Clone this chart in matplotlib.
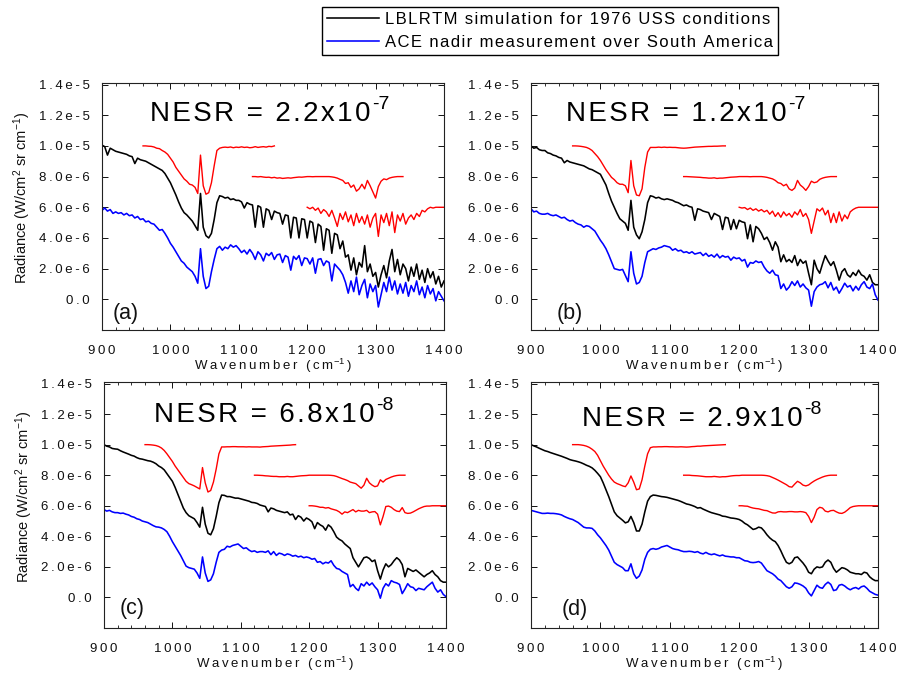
import numpy as np
import matplotlib
matplotlib.use("Agg")
import matplotlib.pyplot as plt
from matplotlib.ticker import FixedLocator, FixedFormatter, MultipleLocator

plt.rcParams['font.family'] = ['Liberation Sans', 'DejaVu Sans']
plt.rcParams['mathtext.fontset'] = 'custom'
plt.rcParams['mathtext.rm'] = 'Liberation Sans'
plt.rcParams['mathtext.it'] = 'Liberation Sans:italic'
plt.rcParams['mathtext.bf'] = 'Liberation Sans:bold'

# ---------------- data (radiance in units of 1e-6 W/cm2 sr cm-1) ----------------
wavenumber = np.arange(900, 1401, 4)

a_black = [
    10.05, 9.95, 9.4, 9.85, 9.75, 9.65, 9.6, 9.55, 9.5, 9.45,
    9.35, 9.3, 8.85, 9.2, 9.1, 9.05, 9.0, 8.9, 8.8, 8.7,
    8.6, 8.5, 8.4, 8.2, 7.9, 7.6, 7.2, 6.8, 6.35, 5.95,
    5.65, 5.5, 5.3, 5.1, 4.8, 4.5, 6.9, 4.7, 4.15, 4.0,
    4.3, 5.2, 6.3, 6.75, 6.7, 6.6, 6.65, 6.5, 6.55, 6.45,
    6.45, 6.35, 5.95, 6.3, 6.2, 6.15, 4.7, 6.1, 6.0, 4.7,
    5.9, 5.8, 5.2, 5.75, 5.65, 5.6, 4.9, 5.5, 5.45, 4.0,
    5.35, 5.3, 4.0, 5.25, 5.2, 4.0, 5.1, 5.0, 3.7, 4.9,
    4.75, 3.2, 4.6, 4.5, 3.0, 4.3, 4.2, 3.3, 3.8, 2.75,
    2.9, 1.9, 2.7, 1.6, 2.4, 2.1, 3.5, 1.8, 2.3, 1.5,
    1.75, 0.8, 1.6, 2.2, 1.4, 2.5, 3.25, 1.8, 2.6, 1.6,
    2.3, 2.0, 1.2, 2.1, 1.5, 2.3, 1.3, 1.9, 1.1, 2.0,
    1.4, 1.8, 1.0, 1.5, 0.8, 1.2]
a_blue = [
    5.8, 5.95, 5.75, 5.85, 5.6, 5.7, 5.6, 5.65, 5.5, 5.6,
    5.45, 5.5, 5.3, 5.4, 5.2, 5.25, 5.05, 5.1, 4.95, 4.9,
    4.7, 4.5, 4.55, 4.3, 4.0, 3.65, 3.4, 3.1, 2.8, 2.5,
    2.35, 2.1, 1.95, 1.8, 1.5, 1.05, 3.3, 1.5, 0.7, 0.85,
    1.8, 2.6, 3.3, 3.45, 3.2, 3.4, 3.3, 3.55, 3.4, 3.5,
    3.3, 3.05, 3.2, 2.95, 3.25, 3.0, 2.6, 3.1, 2.9, 2.5,
    3.0, 2.85, 3.05, 2.6, 2.9, 2.95, 2.4, 2.85, 2.75, 1.9,
    2.8, 2.6, 2.85, 2.2, 2.7, 2.65, 2.3, 2.7, 1.7, 2.6,
    2.65, 2.2, 2.5, 2.4, 1.2, 2.3, 2.1, 1.9, 1.6, 1.1,
    0.4, 1.2, 0.5, 1.45, 0.3, 0.9, 1.3, 0.1, 1.0, 0.5,
    0.9, -0.5, 0.3, 1.1, 0.5, 1.45, 0.6, 1.2, 0.35, 1.0,
    0.4, 1.1, 0.2, 0.9, 0.5, 1.2, 0.3, 0.8, 0.1, 0.9,
    0.35, 0.7, -0.1, 0.5, 0.2, -0.1]
a_red_upper = [
    10.0, 10.0, 9.98, 9.97, 9.93, 9.85, 9.82, 9.7, 9.6, 9.45,
    9.2, 8.95, 8.6, 8.35, 8.1, 7.85, 7.7, 7.5, 7.45, 7.3,
    6.9, 9.4, 7.4, 6.85, 6.95, 7.6, 8.7, 9.7, 9.85, 9.9,
    9.92, 9.9, 9.93, 9.88, 9.92, 9.9, 9.94, 9.9, 9.92, 9.88,
    9.9, 9.95, 9.9, 9.93, 9.95, 9.92, 9.97, 9.95, 10.0]
a_red_middle = [
    8.0, 8.0, 7.98, 8.0, 7.97, 7.95, 7.96, 7.92, 7.95, 7.9,
    7.92, 7.88, 7.9, 7.92, 7.9, 7.93, 7.95, 7.97, 7.96, 7.98,
    8.0, 8.0, 7.99, 8.0, 8.0, 8.0, 8.0, 8.0, 8.0, 7.98,
    7.95, 7.9, 7.82, 7.75, 7.55, 7.6, 7.3, 7.45, 7.05, 7.2,
    7.5, 7.2, 7.75, 7.4, 7.0, 6.6, 7.35, 7.7, 7.85, 7.8,
    7.9, 7.95, 7.98, 8.0, 8.0, 8.0]
a_red_lower = [
    6.0, 5.9, 6.0, 5.8, 5.95, 5.6, 5.85, 5.7, 5.4, 5.8,
    5.3, 4.75, 5.6, 5.2, 5.7, 5.05, 5.5, 4.8, 5.6, 5.0,
    5.4, 4.9, 5.5, 4.7, 5.3, 5.6, 4.1, 5.5, 5.0, 5.6,
    4.8, 5.7, 4.35, 5.5, 5.1, 5.6, 4.9, 5.3, 5.5, 5.2,
    5.6, 5.4, 5.8, 5.7, 5.9, 6.0, 5.95, 6.0, 6.0, 6.0,
    6.0]

b_black = [
    10.0, 9.85, 9.9, 9.75, 9.7, 9.7, 9.55, 9.5, 9.4, 9.35,
    9.25, 9.2, 8.9, 9.05, 8.95, 8.9, 8.85, 8.8, 8.75, 8.7,
    8.6, 8.5, 8.45, 8.35, 8.25, 8.15, 7.8, 7.45, 6.9, 6.4,
    6.0, 5.6, 5.25, 5.1, 4.95, 4.5, 6.45, 4.7, 4.2, 3.95,
    4.4, 5.2, 6.3, 6.75, 6.7, 6.6, 6.65, 6.55, 6.5, 6.55,
    6.5, 6.45, 6.35, 6.3, 6.2, 6.1, 6.15, 6.05, 6.0, 5.15,
    5.9, 5.85, 5.75, 5.7, 5.65, 5.2, 5.6, 5.5, 5.4, 4.55,
    5.35, 5.3, 4.55, 5.2, 4.6, 5.15, 5.05, 5.0, 3.95, 4.85,
    3.75, 4.75, 4.6, 4.3, 3.9, 4.05, 3.7, 3.2, 3.75, 3.4,
    2.45, 2.9, 2.45, 2.6, 2.4, 2.85, 2.2, 2.6, 2.35, 2.5,
    1.7, 0.95, 2.55, 2.0, 1.7, 2.3, 2.85, 2.5, 2.2, 2.45,
    1.9, 1.25, 1.8, 2.0, 1.6, 1.45, 1.75, 1.55, 1.9, 1.6,
    1.5, 1.25, 1.6, 1.1, 0.95, 0.95]
b_blue = [
    5.9, 5.7, 5.75, 5.6, 5.55, 5.55, 5.6, 5.5, 5.45, 5.5,
    5.4, 5.3, 5.35, 5.2, 5.1, 5.15, 5.0, 4.9, 4.85, 4.7,
    4.8, 4.75, 4.6, 4.45, 4.15, 3.85, 3.6, 3.3, 2.9, 2.45,
    2.0, 1.95, 1.9, 1.95, 1.55, 1.15, 3.1, 1.7, 1.0, 1.1,
    1.5, 2.4, 3.1, 3.2, 3.3, 3.25, 3.35, 3.4, 3.5, 3.45,
    3.4, 3.2, 3.3, 3.15, 3.2, 3.05, 3.1, 3.0, 3.1, 2.95,
    3.0, 3.05, 2.85, 3.0, 2.8, 2.9, 2.75, 2.95, 2.7, 2.85,
    2.75, 2.8, 2.55, 2.75, 2.65, 2.7, 2.5, 2.6, 2.1, 2.4,
    2.35, 2.5, 2.4, 2.45, 2.1, 1.85, 1.7, 1.9, 1.6, 1.55,
    0.7, 1.0, 0.6, 0.8, 1.15, 0.9, 1.2, 0.8, 1.0, 0.75,
    0.6, -0.45, 0.5, 0.8, 0.95, 1.0, 1.15, 0.75, 1.1, 0.6,
    0.8, 0.4, 0.7, 1.05, 0.8, 0.9, 0.55, 0.85, 0.6, 0.95,
    1.15, 0.8, 0.7, 1.0, 0.3, -0.05]
b_red_upper = [
    10.0, 10.0, 9.99, 9.97, 9.94, 9.9, 9.82, 9.7, 9.5, 9.3,
    9.05, 8.75, 8.45, 8.2, 7.95, 7.8, 7.6, 7.5, 7.5, 7.4,
    6.95, 9.05, 7.4, 6.8, 6.75, 7.2, 8.6, 9.6, 9.9, 9.9,
    9.9, 9.92, 9.9, 9.92, 9.9, 9.91, 9.9, 9.9, 9.88, 9.86,
    9.85, 9.86, 9.88, 9.9, 9.92, 9.93, 9.94, 9.95, 9.96, 9.97,
    9.97, 9.98, 9.98, 9.99, 10.0, 10.0]
b_red_middle = [
    8.0, 8.0, 7.99, 7.98, 7.97, 7.96, 7.95, 7.93, 7.92, 7.9,
    7.9, 7.92, 7.88, 7.9, 7.9, 7.92, 7.94, 7.96, 7.97, 7.98,
    8.0, 8.0, 8.0, 8.0, 7.99, 8.0, 8.0, 8.0, 8.0, 7.98,
    7.95, 7.9, 7.85, 7.75, 7.6, 7.55, 7.4, 7.5, 7.2, 7.1,
    7.25, 7.75, 7.45, 7.3, 7.1, 7.35, 7.7, 7.6, 7.65, 7.82,
    7.9, 7.95, 7.98, 8.0, 8.0, 8.0]
b_red_lower = [
    6.0, 5.95, 5.98, 5.85, 5.95, 5.8, 5.9, 5.75, 5.85, 5.7,
    5.8, 5.55, 5.75, 5.4, 5.65, 5.35, 5.7, 5.45, 5.6, 5.35,
    5.7, 5.5, 5.85, 5.4, 5.6, 5.2, 4.3, 5.1, 5.9, 5.75,
    5.95, 5.5, 5.8, 5.0, 5.6, 5.0, 5.7, 5.1, 5.5, 5.25,
    5.7, 5.85, 5.95, 6.0, 6.0, 6.0, 6.0, 6.0, 6.0, 6.0,
    6.0]

c_black = [
    10.0, 9.9, 9.85, 9.75, 9.72, 9.7, 9.6, 9.52, 9.45, 9.38,
    9.3, 9.25, 9.15, 9.08, 9.05, 9.0, 8.95, 8.92, 8.85, 8.75,
    8.6, 8.5, 8.35, 8.1, 7.85, 7.6, 7.2, 6.75, 6.3, 5.85,
    5.55, 5.35, 5.25, 5.15, 4.9, 4.6, 5.9, 4.8, 4.2, 4.1,
    4.5, 5.3, 6.2, 6.7, 6.68, 6.6, 6.6, 6.55, 6.5, 6.5,
    6.45, 6.4, 6.35, 6.3, 6.22, 6.2, 6.15, 6.05, 6.0, 5.95,
    5.6, 5.85, 5.8, 5.7, 5.65, 5.6, 5.55, 5.6, 5.4, 5.45,
    5.1, 5.35, 5.25, 5.0, 5.2, 5.1, 4.95, 4.5, 4.9, 4.75,
    4.65, 4.4, 4.75, 4.6, 4.3, 3.95, 3.8, 3.7, 3.5, 3.35,
    3.2, 2.6, 2.3, 2.0, 2.3, 2.6, 2.65, 2.55, 2.35, 2.45,
    1.75, 1.2, 1.8, 2.2, 2.0, 2.15, 2.4, 2.6, 2.45, 2.15,
    1.35, 1.9, 1.8, 1.7, 1.8, 1.65, 1.5, 1.35, 1.5, 1.6,
    1.75, 1.5, 1.35, 1.1, 1.0, 1.0]
c_blue = [
    5.75, 5.65, 5.7, 5.6, 5.55, 5.55, 5.5, 5.52, 5.45, 5.4,
    5.3, 5.25, 5.15, 5.1, 5.0, 4.95, 4.9, 4.8, 4.7, 4.62,
    4.6, 4.55, 4.45, 4.3, 4.0, 3.65, 3.35, 3.05, 2.75, 2.4,
    2.05, 1.95, 1.9, 1.85, 1.6, 1.25, 2.65, 1.6, 1.05, 1.15,
    1.55, 2.3, 2.95, 3.1, 3.15, 3.35, 3.3, 3.4, 3.45, 3.5,
    3.35, 3.2, 3.25, 3.1, 3.0, 3.05, 2.95, 3.0, 3.0, 2.95,
    3.05, 2.8, 3.0, 2.75, 2.9, 2.85, 2.75, 2.85, 2.8, 2.7,
    2.75, 2.65, 2.7, 2.6, 2.65, 2.6, 2.5, 2.55, 2.3, 2.35,
    2.2, 2.3, 2.25, 2.4, 2.1, 1.9, 1.85, 1.7, 1.6, 1.5,
    0.7, 0.85, 0.6, 0.45, 0.9, 0.75, 1.0, 0.8, 0.95, 0.7,
    0.5, -0.05, 0.6, 0.9, 0.75, 1.1, 1.0, 0.95, 0.85, 0.25,
    0.55, 0.9, 0.7, 0.65, 0.45, 0.6, 0.55, 0.5, 0.7, 0.85,
    1.0, 0.6, 0.35, 0.5, 0.2, 0.05]
c_red_upper = [
    10.0, 10.0, 9.99, 9.97, 9.94, 9.88, 9.78, 9.62, 9.4, 9.15,
    8.9, 8.6, 8.35, 8.1, 7.85, 7.6, 7.45, 7.38, 7.3, 7.2,
    7.1, 8.5, 7.5, 6.9, 7.0, 7.55, 8.4, 9.4, 9.85, 9.85,
    9.86, 9.86, 9.87, 9.87, 9.86, 9.86, 9.86, 9.85, 9.86, 9.85,
    9.85, 9.85, 9.84, 9.86, 9.87, 9.88, 9.9, 9.91, 9.92, 9.93,
    9.94, 9.95, 9.96, 9.97, 9.99, 10.0]
c_red_middle = [
    8.0, 8.0, 7.99, 7.98, 7.96, 7.95, 7.93, 7.92, 7.92, 7.9,
    7.9, 7.9, 7.92, 7.9, 7.9, 7.92, 7.94, 7.96, 7.97, 7.98,
    8.0, 8.0, 8.0, 8.0, 8.0, 8.0, 8.0, 8.0, 7.99, 7.97,
    7.92, 7.85, 7.78, 7.72, 7.65, 7.55, 7.5, 7.45, 7.3, 7.15,
    7.35, 7.8, 7.5, 7.35, 7.25, 7.3, 7.7, 7.55, 7.72, 7.8,
    7.88, 7.94, 7.98, 8.0, 8.0, 8.0]
c_red_lower = [
    6.0, 6.0, 5.98, 5.95, 5.9, 5.9, 5.85, 5.88, 5.8, 5.75,
    5.7, 5.6, 5.45, 5.6, 5.55, 5.65, 5.75, 5.6, 5.7, 5.65,
    5.65, 5.7, 5.55, 5.6, 5.62, 5.45, 4.75, 5.3, 5.95, 5.98,
    5.9, 5.75, 5.65, 5.62, 5.88, 5.55, 5.5, 5.52, 5.6, 5.7,
    5.8, 5.88, 5.95, 5.98, 5.98, 6.0, 6.0, 6.0, 6.0, 6.0,
    6.0]

d_black = [
    10.0, 9.92, 9.85, 9.76, 9.68, 9.6, 9.55, 9.48, 9.42, 9.36,
    9.3, 9.24, 9.17, 9.1, 9.02, 8.97, 8.93, 8.88, 8.82, 8.74,
    8.65, 8.58, 8.48, 8.32, 8.12, 7.9, 7.5, 7.05, 6.6, 6.1,
    5.6, 5.35, 5.2, 5.05, 4.88, 4.95, 5.3, 4.9, 4.35, 4.35,
    4.8, 5.6, 6.3, 6.6, 6.7, 6.68, 6.64, 6.6, 6.58, 6.55,
    6.5, 6.45, 6.4, 6.35, 6.28, 6.2, 6.12, 6.08, 6.02, 5.95,
    5.85, 5.88, 5.78, 5.7, 5.62, 5.55, 5.5, 5.45, 5.4, 5.32,
    5.3, 5.25, 5.2, 5.18, 5.15, 5.1, 5.0, 4.85, 4.75, 4.6,
    4.45, 4.5, 4.6, 4.55, 4.35, 4.1, 3.9, 3.75, 3.65, 3.4,
    3.05, 2.65, 2.3, 2.2, 2.3, 2.6, 2.65, 2.45, 2.25, 2.0,
    1.65, 1.55, 1.85, 2.0, 1.95, 2.0, 2.3, 2.45, 2.3, 1.9,
    1.65, 1.8, 1.95, 1.9, 1.8, 1.65, 1.6, 1.55, 1.55, 1.5,
    1.65, 1.6, 1.35, 1.2, 1.1, 1.1]
d_blue = [
    5.7, 5.65, 5.6, 5.55, 5.5, 5.5, 5.52, 5.5, 5.5, 5.48,
    5.45, 5.4, 5.3, 5.22, 5.15, 5.1, 5.0, 4.9, 4.75, 4.6,
    4.55, 4.55, 4.52, 4.35, 4.1, 3.9, 3.65, 3.4, 3.1, 2.7,
    2.3, 2.15, 2.05, 1.95, 1.75, 1.75, 2.2, 1.55, 1.25, 1.4,
    1.8, 2.5, 2.95, 3.15, 3.2, 3.15, 3.2, 3.3, 3.35, 3.4,
    3.3, 3.2, 3.15, 3.12, 3.05, 3.0, 3.0, 3.02, 3.0, 2.95,
    3.0, 2.9, 2.85, 2.95, 2.85, 2.8, 2.85, 2.78, 2.72, 2.78,
    2.7, 2.68, 2.65, 2.65, 2.6, 2.6, 2.5, 2.4, 2.38, 2.3,
    2.28, 2.3, 2.35, 2.25, 2.0, 1.75, 1.65, 1.55, 1.4, 1.2,
    1.1, 0.9, 0.7, 0.6, 0.7, 0.95, 0.92, 0.85, 0.75, 0.6,
    0.3, 0.1, 0.45, 0.8, 0.65, 0.6, 0.85, 1.0, 0.85, 0.45,
    0.5, 0.8, 0.85, 0.75, 0.6, 0.5, 0.6, 0.65, 0.55, 0.7,
    0.75, 0.6, 0.4, 0.3, 0.2, 0.15]
d_red_upper = [
    10.0, 10.0, 10.0, 9.98, 9.95, 9.9, 9.82, 9.7, 9.55, 9.3,
    8.95, 8.6, 8.3, 8.0, 7.75, 7.55, 7.45, 7.38, 7.3, 7.25,
    7.5, 7.95, 7.55, 7.05, 7.1, 7.7, 8.6, 9.4, 9.8, 9.85,
    9.85, 9.86, 9.86, 9.87, 9.87, 9.86, 9.86, 9.85, 9.85, 9.86,
    9.85, 9.84, 9.85, 9.87, 9.88, 9.9, 9.9, 9.92, 9.93, 9.94,
    9.95, 9.96, 9.97, 9.98, 9.99, 10.0]
d_red_middle = [
    8.0, 8.0, 8.0, 7.98, 7.97, 7.96, 7.94, 7.92, 7.9, 7.9,
    7.9, 7.92, 7.9, 7.88, 7.9, 7.9, 7.92, 7.95, 7.97, 7.98,
    7.98, 8.0, 8.0, 8.0, 8.0, 8.0, 8.0, 8.0, 8.0, 7.99,
    7.97, 7.93, 7.85, 7.77, 7.68, 7.58, 7.48, 7.38, 7.25, 7.22,
    7.42, 7.6, 7.5, 7.35, 7.3, 7.36, 7.5, 7.62, 7.72, 7.8,
    7.88, 7.94, 7.98, 8.0, 8.0, 8.0]
d_red_lower = [
    6.0, 6.0, 5.98, 5.97, 5.9, 5.85, 5.82, 5.8, 5.75, 5.7,
    5.68, 5.6, 5.53, 5.52, 5.6, 5.62, 5.6, 5.6, 5.62, 5.62,
    5.6, 5.6, 5.62, 5.6, 5.55, 5.3, 4.9, 5.25, 5.75, 5.9,
    5.85, 5.65, 5.6, 5.68, 5.7, 5.6, 5.52, 5.5, 5.58, 5.72,
    5.88, 5.95, 5.98, 6.0, 6.0, 6.0, 6.0, 6.0, 6.0, 6.0,
    6.0]

red_upper_wn_a = wavenumber[15:64]     # 960 - 1152
red_upper_wn = wavenumber[15:71]       # 960 - 1180
red_middle_wn = wavenumber[55:111]     # 1120 - 1340
red_lower_wn = wavenumber[75:126]      # 1200 - 1400

nesr_mantissa = ["2.2", "1.2", "6.8", "2.9"]
nesr_exponent = ["-7", "-7", "-8", "-8"]
panel_letters = ["(a)", "(b)", "(c)", "(d)"]

ytick_values = [0.0, 2e-6, 4e-6, 6e-6, 8e-6, 1.0e-5, 1.2e-5, 1.4e-5]
ytick_labels = ["0.0", "2.0e-6", "4.0e-6", "6.0e-6", "8.0e-6",
                "1.0e-5", "1.2e-5", "1.4e-5"]
xtick_values = [900, 1000, 1100, 1200, 1300, 1400]

legend_labels = ["LBLRTM simulation for 1976 USS conditions",
                 "ACE nadir measurement over South America"]

# ---------------- helpers ----------------
THIN = "\u2009"
HAIR = "\u200a"


def spaced(s, sep=THIN):
    return sep.join(s)


SCALE = 1e-6
TXT = "#111111"

fig = plt.figure(figsize=(8.97, 6.74), dpi=100)

positions = [
    [102 / 897, 1 - 330 / 674, 342 / 897, 247 / 674],
    [531 / 897, 1 - 330 / 674, 347 / 897, 247 / 674],
    [104 / 897, 1 - 628 / 674, 342 / 897, 246 / 674],
    [531 / 897, 1 - 628 / 674, 347 / 897, 246 / 674],
]

panels = [
    (a_black, a_blue, a_red_upper, a_red_middle, a_red_lower, red_upper_wn_a),
    (b_black, b_blue, b_red_upper, b_red_middle, b_red_lower, red_upper_wn),
    (c_black, c_blue, c_red_upper, c_red_middle, c_red_lower, red_upper_wn),
    (d_black, d_blue, d_red_upper, d_red_middle, d_red_lower, red_upper_wn),
]
# centre x of the main NESR text and its baseline (1e-6 units)
nesr_xy = [(1132, 11.6), (1110, 11.6), (1135, 11.5), (1132, 11.2)]
letter_xy = [(935, -0.9), (956, -0.9), (941, -0.7), (963, -0.8)]

legend_handles = None
for i, (pos, data) in enumerate(zip(positions, panels)):
    black, blue, red_up, red_mid, red_low, up_wn = data
    ax = fig.add_axes(pos)
    lb, = ax.plot(wavenumber, np.array(black) * SCALE, color="black", lw=1.15)
    lbl, = ax.plot(wavenumber, np.array(blue) * SCALE, color="#0000ff", lw=1.15)
    ax.plot(up_wn, np.array(red_up) * SCALE, color="#ff0000", lw=1.0)
    ax.plot(red_middle_wn, np.array(red_mid) * SCALE, color="#ff0000", lw=1.0)
    ax.plot(red_lower_wn, np.array(red_low) * SCALE, color="#ff0000", lw=1.0)
    if legend_handles is None:
        legend_handles = [lb, lbl]

    ax.set_xlim(900, 1400)
    ax.set_ylim(-2e-6, 1.41e-5)
    ax.xaxis.set_major_locator(FixedLocator(xtick_values))
    ax.xaxis.set_major_formatter(FixedFormatter([spaced(str(v)) for v in xtick_values]))
    ax.xaxis.set_minor_locator(MultipleLocator(20))
    ax.yaxis.set_major_locator(FixedLocator(ytick_values))
    ax.yaxis.set_major_formatter(FixedFormatter([spaced(s) for s in ytick_labels]))
    ax.tick_params(which="both", direction="in", top=True, right=True,
                   labelsize=9.5, colors=TXT, labelcolor=TXT)
    ax.tick_params(which="major", length=4.5, width=0.7)
    ax.tick_params(which="minor", length=2.5, width=0.6)
    ax.tick_params(axis="x", which="major", pad=11)
    ax.tick_params(axis="y", which="major", pad=9)
    for sp in ax.spines.values():
        sp.set_linewidth(0.8)
        sp.set_color("#222222")

    ax.set_xlabel(spaced("Wavenumber (cm") + r"$^{-1}$" + THIN + ")",
                  fontsize=9.5, labelpad=0.0, color=TXT)
    if i in (0, 2):
        ax.set_ylabel(r"Radiance (W/cm$^2$ sr cm$^{-1}$)", fontsize=10.5,
                      color=TXT)
        ax.yaxis.set_label_coords(-0.202, 0.535)

    nx, ny = nesr_xy[i]
    main = ax.text(nx, ny * SCALE,
                   spaced("NESR = " + nesr_mantissa[i] + "x10", HAIR),
                   fontsize=20, ha="center", va="baseline", color="black")
    ax.annotate(nesr_exponent[i], xy=(1.0, 1.0), xycoords=main,
                xytext=(1.0, 3.6), textcoords="offset points",
                ha="left", va="top", fontsize=14, color="black")
    lx, ly = letter_xy[i]
    ax.text(lx, ly * SCALE, panel_letters[i], fontsize=15.5,
            ha="center", va="center", color=TXT)

leg = fig.legend(legend_handles, [spaced(s, HAIR) for s in legend_labels],
                 loc="upper left", bbox_to_anchor=(322 / 897, 1 - 7 / 674),
                 fontsize=12, frameon=True, fancybox=False, framealpha=1,
                 edgecolor="black", handlelength=3.1, handletextpad=0.35,
                 borderpad=0.32, labelspacing=0.45, borderaxespad=0)
leg.get_frame().set_linewidth(1.0)

fig.savefig("out.png", dpi=100, facecolor="white")
